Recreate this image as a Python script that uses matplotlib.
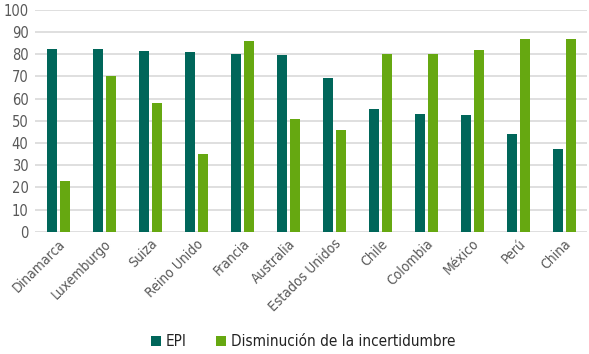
import matplotlib
matplotlib.use("Agg")
import matplotlib.pyplot as plt
import numpy as np

paises = ["Dinamarca", "Luxemburgo", "Suiza", "Reino Unido", "Francia", "Australia",
          "Estados Unidos", "Chile", "Colombia", "México", "Perú", "China"]
epi = [82.5, 82.2, 81.3, 81.2, 80.0, 79.7, 69.1, 55.3, 52.9, 52.5, 44.0, 37.2]
disminucion = [23, 70, 58, 35, 86, 51, 46, 80, 80, 82, 87, 87]

c_epi = "#00665a"
c_dis = "#66a811"
gris = "#595959"

plt.rcParams['font.family'] = ['DejaVu Sans']
plt.rcParams['font.stretch'] = 'condensed'

fig = plt.figure(figsize=(5.89, 3.54), dpi=100)
ax = fig.add_axes([0.06, 0.345, 0.937, 0.627])

x = np.arange(len(paises))
w = 0.22
ax.bar(x - 0.145, epi, w, color=c_epi, label="EPI", zorder=3)
ax.bar(x + 0.145, disminucion, w, color=c_dis, label="Disminución de la incertidumbre", zorder=3)

ax.set_ylim(0, 100)
ax.set_xlim(-0.5, len(paises) - 0.5)
ax.set_yticks(range(0, 101, 10))
ax.yaxis.grid(True, color="#d9d9d9", linewidth=1.2, zorder=0)
for s in ax.spines.values():
    s.set_visible(False)
ax.tick_params(axis="both", length=0, colors=gris, labelsize=10)
ax.tick_params(axis="y", pad=5, labelsize=10.5)
ax.set_xticks(x)
ax.set_xticklabels(paises, rotation=45, ha="right", rotation_mode="anchor")

ax.legend(loc="upper center", bbox_to_anchor=(0.485, -0.4), ncol=2, frameon=False,
          fontsize=11, handlelength=0.7, handleheight=0.7, handletextpad=0.3,
          columnspacing=1.9, labelcolor="#222222")

fig.savefig("out.png", dpi=100)
